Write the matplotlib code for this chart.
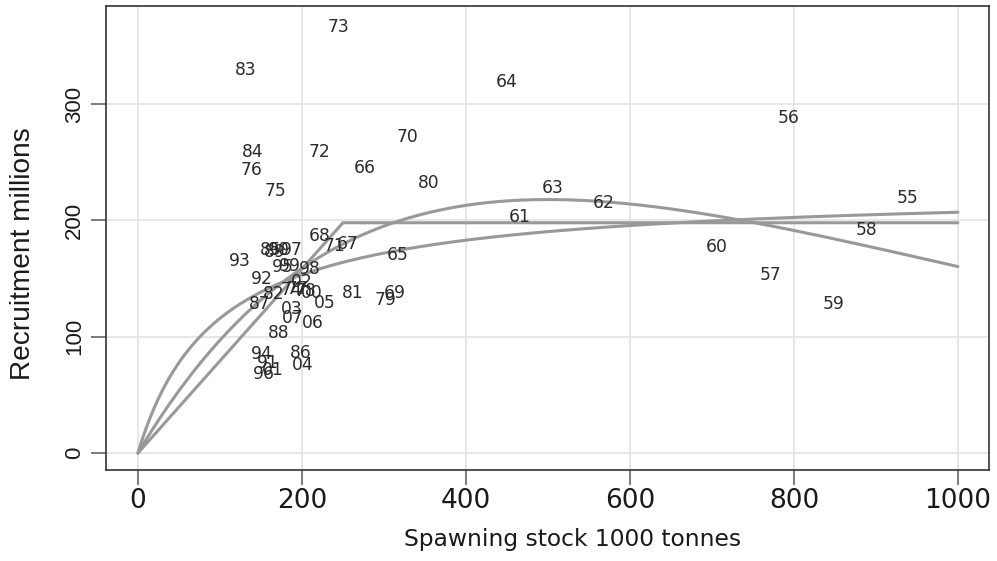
import numpy as np
import matplotlib
matplotlib.use("Agg")
import matplotlib.pyplot as plt

plt.rcParams['font.family'] = ['DejaVu Sans']

# Year labels with spawning stock (1000 t) and recruitment (millions)
years = ["55","56","57","58","59","60","61","62","63","64","65","66","67","68","69",
         "70","71","72","73","74","75","76","77","78","79","80","81","82","83","84",
         "85","86","87","88","89","90","91","92","93","94","95","96","97","98","99",
         "00","01","02","03","04","05","06","07"]
ssb = [938, 793, 772, 889, 849, 706, 466, 568, 506, 450, 317, 276, 256, 221, 313,
       329, 240, 221, 245, 187, 168, 139, 194, 204, 302, 355, 262, 165, 132, 140,
       162, 199, 148, 172, 167, 172, 159, 151, 124, 151, 177, 154, 188, 210, 185,
       212, 165, 200, 188, 201, 228, 213, 189]
rec = [219, 288, 153, 192, 128, 177, 203, 215, 228, 319, 170, 245, 180, 187, 138,
       272, 178, 259, 366, 140, 225, 243, 141, 139, 132, 232, 138, 137, 329, 259,
       175, 86, 128, 103, 173, 175, 77, 150, 165, 85, 160, 68, 175, 158, 161,
       138, 71, 147, 124, 76, 129, 112, 116]

# Fitted stock-recruitment models
hs_break, hs_level = 250, 198          # hockey stick
rk_a, rk_b = 1.185, 0.002              # Ricker
bh_a, bh_b = 226.9, 95.9               # Beverton-Holt

S = np.linspace(0, 1000, 501)
hockey = np.where(S < hs_break, hs_level * S / hs_break, hs_level)
ricker = rk_a * S * np.exp(-rk_b * S)
bevholt = bh_a * S / (bh_b + S)

fig = plt.figure(figsize=(9.97, 5.61), dpi=100)
ax = fig.add_axes([0.1063, 0.1622, 0.8857, 0.8271])

for curve in (hockey, ricker, bevholt):
    ax.plot(S, curve, color='#999999', lw=2.2, solid_capstyle='round', zorder=3)

for y, xs, rs in zip(years, ssb, rec):
    ax.text(xs, rs, y, ha='center', va='center', fontsize=12.3, color='#2b2b2b', zorder=4)

ax.set_xlim(-39, 1038)
ax.set_ylim(-14.6, 384.4)
ax.set_xticks([0, 200, 400, 600, 800, 1000])
ax.set_yticks([0, 100, 200, 300])
ax.grid(True, color='#e3e3e3', lw=1.2, zorder=0)
ax.set_axisbelow(True)
ax.tick_params(axis='both', direction='out', length=11, width=1.2, color='#666666',
               labelcolor='#1a1a1a')
ax.tick_params(axis='x', labelsize=19, pad=2)
ax.tick_params(axis='y', labelsize=16, pad=4)
for lab in ax.get_yticklabels():
    lab.set_rotation(90)
    lab.set_va('center')
    lab.set_family(['Liberation Sans', 'DejaVu Sans'])
for sp in ax.spines.values():
    sp.set_color('#333333')
    sp.set_linewidth(1.2)

ax.set_xlabel('Spawning stock 1000 tonnes', fontsize=16.8, color='#1a1a1a',
              ha='center', va='center')
ax.xaxis.set_label_coords(0.528, -0.149)
ax.set_ylabel('Recruitment millions', fontsize=20.2, color='#1a1a1a',
              family=['Liberation Sans', 'DejaVu Sans'], ha='center', va='center')
ax.yaxis.set_label_coords(-0.094, 0.466)

fig.savefig('out.png', dpi=100, facecolor='white')
